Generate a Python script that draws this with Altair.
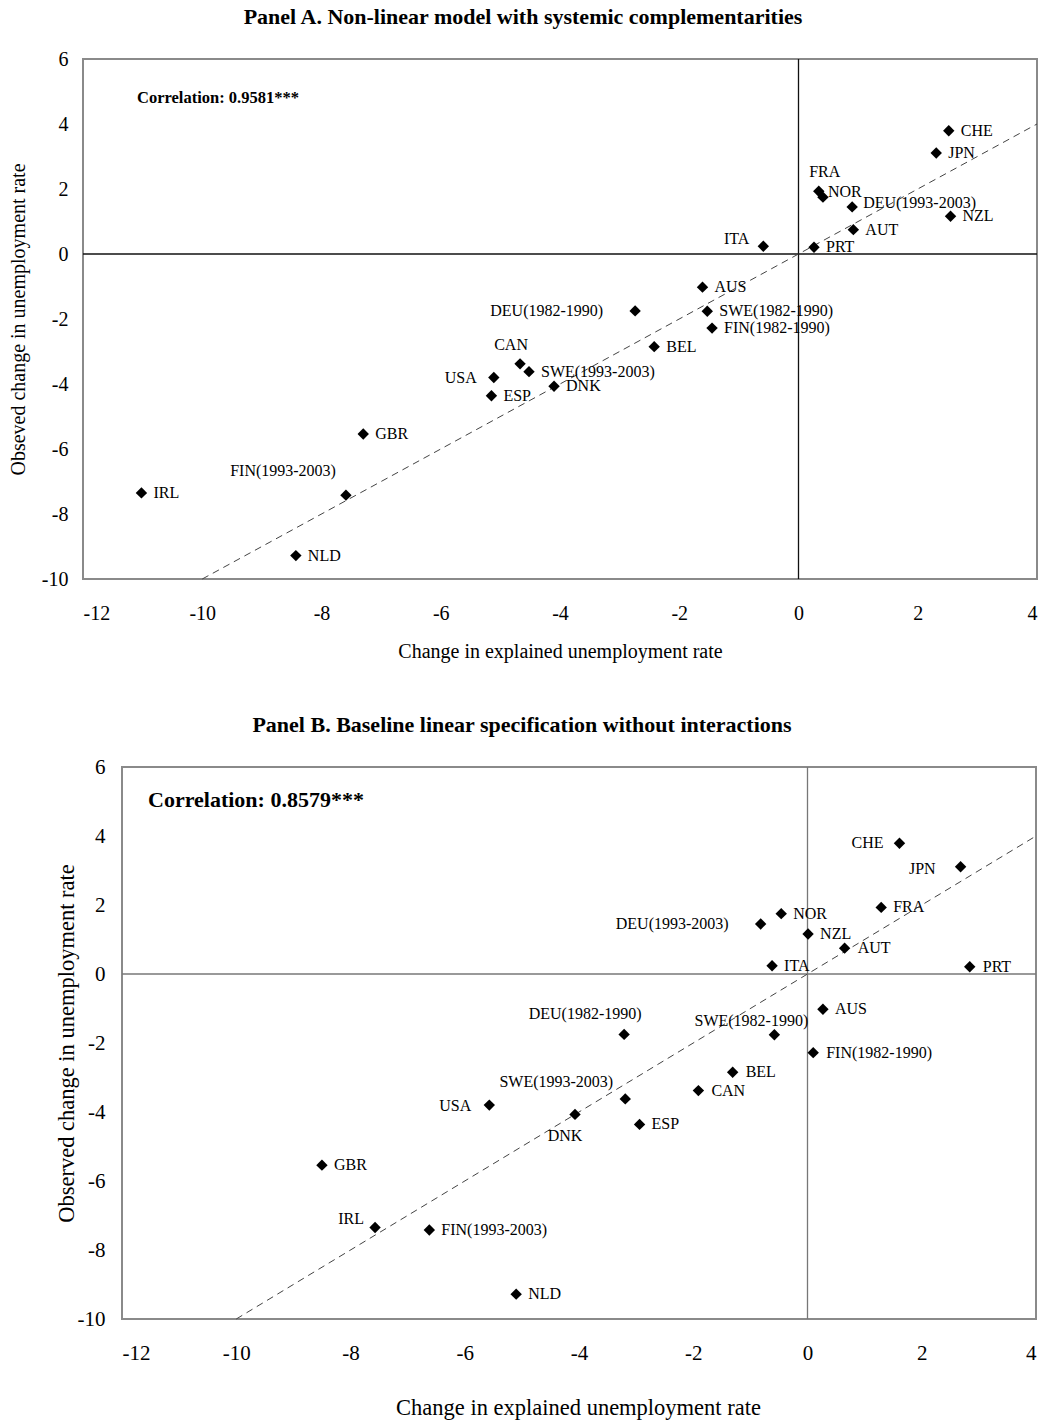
import altair as alt
import pandas as pd

FONT = "Liberation Serif"

names = ["CHE", "JPN", "FRA", "NOR", "DEU(1993-2003)", "NZL", "AUT", "PRT", "ITA", "AUS",
         "DEU(1982-1990)", "SWE(1982-1990)", "FIN(1982-1990)", "BEL", "CAN", "SWE(1993-2003)",
         "USA", "ESP", "DNK", "GBR", "IRL", "FIN(1993-2003)", "NLD"]
observed = [3.79, 3.11, 1.93, 1.75, 1.45, 1.16, 0.75, 0.21, 0.24, -1.02,
            -1.75, -1.76, -2.28, -2.85, -3.38, -3.62,
            -3.80, -4.36, -4.07, -5.54, -7.35, -7.42, -9.28]
explained_a = [2.52, 2.31, 0.34, 0.41, 0.90, 2.55, 0.92, 0.26, -0.59, -1.61,
               -2.74, -1.53, -1.45, -2.42, -4.67, -4.52,
               -5.11, -5.15, -4.10, -7.30, -11.02, -7.59, -8.43]
explained_b = [1.61, 2.68, 1.29, -0.46, -0.82, 0.01, 0.65, 2.84, -0.62, 0.27,
               -3.21, -0.58, 0.10, -1.31, -1.91, -3.19,
               -5.57, -2.94, -4.07, -8.50, -7.57, -6.62, -5.10]

x_ticks = [-12, -10, -8, -6, -4, -2, 0, 2, 4]
y_ticks = [-10, -8, -6, -4, -2, 0, 2, 4, 6]
diag_ends = [-10, 4]

title_a = "Panel A. Non-linear model with systemic complementarities"
title_b = "Panel B. Baseline linear specification without interactions"
corr_a = "Correlation: 0.9581***"
corr_b = "Correlation: 0.8579***"
xtitle = "Change in explained unemployment rate"
ytitle_a = "Obseved change in unemployment rate"
ytitle_b = "Observed change in unemployment rate"

# label placement (text anchor, pixel offsets from the marker) -- styling only
place_a = [("left", 12, 0), ("left", 12, 0), ("center", 6, -19), ("left", 5, -5), ("left", 11, -4),
           ("left", 12, 0), ("left", 12, 0), ("left", 12, 0), ("right", -14, -7), ("left", 12, 0),
           ("right", -32, 0), ("left", 12, 0), ("left", 12, 0), ("left", 12, 0), ("center", -9, -19),
           ("left", 12, 0), ("right", -17, 0), ("left", 12, 0), ("left", 12, 0), ("left", 12, 0),
           ("left", 12, 0), ("right", -10, -24), ("left", 12, 0)]
place_b = [("right", -16, 0), ("right", -25, 2), ("left", 12, 0), ("left", 12, 0), ("right", -32, 0),
           ("left", 12, 0), ("left", 13, 0), ("left", 13, 0), ("left", 12, 0), ("left", 12, 0),
           ("center", -39, -20), ("center", -23, -14), ("left", 13, 0), ("left", 13, 0), ("left", 13, 0),
           ("center", -69, -17), ("right", -18, 1), ("left", 12, 0), ("center", -10, 22), ("left", 12, 0),
           ("right", -11, -9), ("left", 12, 0), ("left", 12, 0)]


def panel(explained, place, title, corr, ytitle, cfg):
    xr = cfg["xrange"]
    ppx = (xr[1] - xr[0]) / (x_ticks[-1] - x_ticks[0])
    ppy = cfg["h"] / (y_ticks[-1] - y_ticks[0])
    df = pd.DataFrame({"name": names, "x": explained, "y": observed,
                       "al": [p[0] for p in place]})
    df["lx"] = df["x"] + pd.Series([p[1] for p in place]) / ppx
    df["ly"] = df["y"] - pd.Series([p[2] for p in place]) / ppy

    xs = alt.Scale(domain=[x_ticks[0], x_ticks[-1]], range=xr, nice=False, zero=False)
    ys = alt.Scale(domain=[y_ticks[0], y_ticks[-1]], nice=False, zero=False)
    xaxis = alt.Axis(values=x_ticks, title=xtitle, grid=False, domain=False, ticks=False,
                     labelExpr="datum.value + ''", labelPadding=cfg["xlabpad"],
                     labelFont=FONT, labelFontSize=cfg["tick"], labelColor="black",
                     titleFont=FONT, titleFontSize=cfg["axtitle"], titleFontWeight="normal",
                     titleColor="black", titleX=cfg["xtx"], titleY=cfg["xty"],
                     titleAlign="center", titleBaseline="middle")
    yaxis = alt.Axis(values=y_ticks, title=ytitle, grid=False, domain=False, ticks=False,
                     labelExpr="datum.value + ''", labelPadding=cfg["ylabpad"],
                     labelFont=FONT, labelFontSize=cfg["tick"], labelColor="black",
                     titleFont=FONT, titleFontSize=cfg["axtitle"], titleFontWeight="normal",
                     titleColor="black", titleX=cfg["ytx"], titleY=cfg["yty"], titleAngle=270,
                     titleAlign="center", titleBaseline="middle", offset=cfg["yoff"])

    def X(f):
        return alt.X(f, type="quantitative", scale=xs, axis=xaxis)

    def Y(f):
        return alt.Y(f, type="quantitative", scale=ys, axis=yaxis)

    frame_df = pd.DataFrame({"x1": [x_ticks[0]], "x2": [x_ticks[-1]],
                             "y1": [y_ticks[0]], "y2": [y_ticks[-1]]})
    frame = alt.Chart(frame_df).mark_rect(fill="transparent", stroke="#8a8a8a", strokeWidth=2).encode(
        x=X("x1"), x2="x2", y=Y("y1"), y2="y2")
    vline = alt.Chart(pd.DataFrame({"x": [0], "y1": [y_ticks[0]], "y2": [y_ticks[-1]]})).mark_rule(
        color=cfg["zero"], strokeWidth=1.3).encode(x=X("x"), y=Y("y1"), y2="y2")
    hline = alt.Chart(pd.DataFrame({"y": [0], "x1": [x_ticks[0]], "x2": [x_ticks[-1]]})).mark_rule(
        color=cfg["zero"], strokeWidth=1.3).encode(y=Y("y"), x=X("x1"), x2="x2")
    diag = alt.Chart(pd.DataFrame({"x": diag_ends, "y": diag_ends})).mark_line(
        color="#444444", strokeWidth=1, strokeDash=[7, 5]).encode(x=X("x"), y=Y("y"))
    pts = alt.Chart(df).mark_point(shape="diamond", filled=True, size=130, color="black",
                                   opacity=1).encode(x=X("x"), y=Y("y"))
    labs = []
    for a in ["left", "center", "right"]:
        labs.append(alt.Chart(df).transform_filter(alt.datum.al == a).mark_text(
            align=a, baseline="middle", font=FONT, fontSize=16, color="black").encode(
            x=X("lx"), y=Y("ly"), text="name:N"))
    ttl = alt.Chart(pd.DataFrame({"t": [title]})).mark_text(
        align="center", baseline="middle", font=FONT, fontSize=22, fontWeight="bold",
        color="black").encode(x=alt.value(cfg["tx"]), y=alt.value(cfg["ty"]), text="t:N")
    cor = alt.Chart(pd.DataFrame({"t": [corr]})).mark_text(
        align="left", baseline="middle", font=FONT, fontSize=cfg["corrsize"], fontWeight="bold",
        color="black").encode(x=alt.value(cfg["cx"]), y=alt.value(cfg["cy"]), text="t:N")
    return alt.layer(frame, vline, hline, diag, pts, *labs, ttl, cor).properties(
        width=954, height=cfg["h"])


cfg_a = dict(xrange=[0, 954], h=520, tick=20, axtitle=20, xlabpad=24, ylabpad=15,
             xtx=477, xty=72, ytx=-65, yty=260, yoff=0, zero="#111111",
             tx=440, ty=-42, cx=54, cy=39, corrsize=16.5)
cfg_b = dict(xrange=[39, 953], h=552, tick=21, axtitle=22.5, xlabpad=23, ylabpad=17,
             xtx=495, xty=88, ytx=-56, yty=276, yoff=-39, zero="#777777",
             tx=439, ty=-42, cx=65, cy=33, corrsize=22)

chart_a = panel(explained_a, place_a, title_a, corr_a, ytitle_a, cfg_a)
chart_b = panel(explained_b, place_b, title_b, corr_b, ytitle_b, cfg_b)

chart = alt.vconcat(chart_a, chart_b, spacing=188, bounds="flush").properties(
    padding={"left": 7, "top": 6, "right": 5, "bottom": 5}, background="white"
).configure_view(stroke="transparent", strokeWidth=0)

chart.save("out.html", embed_options={"renderer": "svg", "actions": False})
